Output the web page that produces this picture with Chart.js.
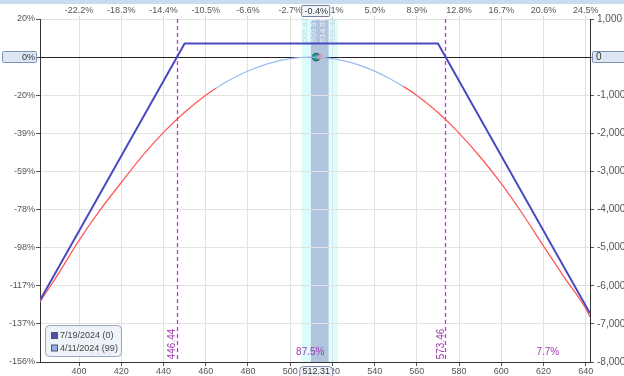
<!DOCTYPE html>
<html>
<head>
<meta charset="utf-8">
<script src="https://cdn.jsdelivr.net/npm/chart.js@4.4.1/dist/chart.umd.min.js"></script>
<style>
html,body{margin:0;padding:0;background:#fff;overflow:hidden}
</style>
</head>
<body>
<canvas id="c" width="624" height="376"></canvas>
<script>

/* data */
let expPrices = [381.5, 450, 570, 642];
let expPnl = [-6380, 355, 355, -6720];

let nowPrices = [381.5, 390, 400, 410, 420, 430, 440, 450, 460, 465, 470, 480, 490, 500, 506, 512.31,
   518, 525, 532, 540, 547, 553.7, 560, 570, 580, 590, 600, 610, 620, 630, 640, 642];
let nowPnl = [-6420, -5700, -4810, -4010, -3290, -2590, -1975, -1445, -1000, -810, -640, -365, -162, -42, -8, -2,
   -26, -90, -195, -368, -560, -775, -1005, -1455, -1995, -2620, -3320, -4110, -4960, -5790, -6596, -6820];
let nowBlueRange = [465, 553.7];

let xTicks = [400, 420, 440, 460, 480, 500, 520, 540, 560, 580, 600, 620, 640];
let topPctLabels = ["-22.2%", "-18.3%", "-14.4%", "-10.5%", "-6.6%", "-2.7%", "1%", "5.0%", "8.9%", "12.8%", "16.7%", "20.6%", "24.5%"];
let pnlTicks = [1000, 0, -1000, -2000, -3000, -4000, -5000, -6000, -7000, -8000];
let pctLabels = ["20%", "0%", "-20%", "-39%", "-59%", "-78%", "-98%", "-117%", "-137%", "-156%"];

let breakevens = [446.44, 573.46];
let probLabels = ["4.8%", "87.5%", "7.7%"];
let currentPrice = 512.31;
let currentPct = "-0.4%";
let bandOuter = [505.5, 522.6];
let bandInner = [509.8, 518.2];
let bandLabels = ["505.82", "509.97", "514.67", "522.42"];
let legendLabels = ["7/19/2024 (0)", "4/11/2024 (99)"];
let legendColors = ["#5050b0", "#8fb0e8"];

const FONT = "Liberation Sans, Arial, sans-serif";

function pts(xs, ys){
   return xs.map(function(x, i){ return {x:x, y:ys[i]}; });
}

function fmt(v){
   return v.toLocaleString("en-US");
}

function setTicks(values){
   return function(scale){
      scale.ticks = values.map(function(v){ return {value:v}; });
   };
}

let drawPlugin = {

   id:"optDraw",

   beforeDraw:function(chart){
      let c = chart.ctx, a = chart.chartArea, xs = chart.scales.x;
      c.save();
      c.fillStyle = "#ffffff";
      c.fillRect(0, 0, chart.width, chart.height);
      c.fillStyle = "#c8dbef";
      c.fillRect(0, 0, chart.width, 4);
      /* bands */
      c.fillStyle = "#dcfdfd";
      c.fillRect(xs.getPixelForValue(bandOuter[0]), a.top, xs.getPixelForValue(bandOuter[1]) - xs.getPixelForValue(bandOuter[0]), a.bottom - a.top);
      c.fillStyle = "#b0c4de";
      c.fillRect(xs.getPixelForValue(bandInner[0]), a.top, xs.getPixelForValue(bandInner[1]) - xs.getPixelForValue(bandInner[0]), a.bottom - a.top);
      c.restore();
   },

   beforeDatasetsDraw:function(chart){
      let c = chart.ctx, a = chart.chartArea, xs = chart.scales.x, ys = chart.scales.y;
      c.save();

      /* zero line */
      let y0 = Math.round(ys.getPixelForValue(0)) + 0.5;
      c.strokeStyle = "#222";
      c.lineWidth = 1;
      c.beginPath();
      c.moveTo(a.left, y0);
      c.lineTo(a.right, y0);
      c.stroke();

      /* band labels */
      c.font = "8px " + FONT;
      c.textAlign = "center";
      c.textBaseline = "middle";
      let bx = [bandOuter[0], bandInner[0], (bandInner[0] + bandInner[1]) / 2, bandOuter[1]];
      bandLabels.forEach(function(t, i){
         c.save();
         c.translate(xs.getPixelForValue(bx[i]) + (i === 0 ? 3 : (i === 3 ? -5 : 3)), 30);
         c.rotate(-Math.PI / 2);
         c.fillStyle = (i === 0 || i === 3) ? "#b9dbe6" : "rgba(255,255,255,0.75)";
         c.fillText(t, 0, 0);
         c.restore();
      });

      /* breakeven lines */
      c.strokeStyle = "#b444c4";
      c.lineWidth = 1.3;
      c.setLineDash([4, 3]);
      breakevens.forEach(function(b){
         let x = Math.round(xs.getPixelForValue(b)) + 0.5;
         c.beginPath();
         c.moveTo(x, a.top);
         c.lineTo(x, a.bottom);
         c.stroke();
      });
      c.setLineDash([]);

      c.fillStyle = "#a238b0";
      c.font = "10px " + FONT;
      breakevens.forEach(function(b){
         let x = xs.getPixelForValue(b);
         c.save();
         c.translate(x - 4.5, 344);
         c.rotate(-Math.PI / 2);
         c.textAlign = "center";
         c.textBaseline = "middle";
         c.fillText(b.toFixed(2), 0, 0);
         c.restore();
      });

      /* probability labels */
      c.textAlign = "center";
      c.textBaseline = "middle";
      let px = [410, 509.5, 622];
      probLabels.forEach(function(t, i){
         c.fillStyle = i === 0 ? "rgba(162,56,176,0.5)" : "#a238b0";
         c.fillText(t, xs.getPixelForValue(px[i]), 352);
      });

      c.restore();
   },

   afterDraw:function(chart){
      let c = chart.ctx, xs = chart.scales.x, ys = chart.scales.y;
      let y0 = ys.getPixelForValue(0);
      let cx = xs.getPixelForValue(currentPrice);
      c.save();

      function box(x, y, w, h, r, fill, stroke){
         c.beginPath();
         c.roundRect(x, y, w, h, r);
         c.fillStyle = fill;
         c.fill();
         c.strokeStyle = stroke;
         c.lineWidth = 1;
         c.stroke();
      }

      c.font = "9px " + FONT;
      c.textBaseline = "middle";

      /* left 0% box */
      box(2.5, Math.round(y0) - 5.5, 34, 11, 1, "#dde7f4", "#7d90b6");
      c.fillStyle = "#333";
      c.textAlign = "right";
      c.fillText(pctLabels[1], 35, y0);

      /* right 0 box */
      box(592.5, Math.round(y0) - 5.5, 34, 11, 1, "#dde7f4", "#7d90b6");
      c.fillStyle = "#333";
      c.textAlign = "left";
      c.font = "10px " + FONT;
      c.fillText(fmt(0), 596, y0);

      /* top pct box */
      c.font = "9px " + FONT;
      box(cx - 14.5, 5.5, 28, 11, 1, "#f2f5fa", "#6f7f9a");
      c.fillStyle = "#333";
      c.textAlign = "center";
      c.fillText(currentPct, cx, 11.5);

      /* bottom price box */
      box(cx - 16.5, 366.5, 33, 14, 4, "#eef2f8", "#7d8dab");
      c.fillStyle = "#333";
      c.fillText(currentPrice.toFixed(2), cx, 372);

      /* legend */
      box(45.5, 325.5, 76, 31, 4, "rgba(234,240,248,0.82)", "#9aa6bc");
      c.font = "9px " + FONT;
      c.textAlign = "left";
      legendLabels.forEach(function(t, i){
         let ly = 335.5 + i * 12.5;
         c.fillStyle = legendColors[i];
         c.fillRect(51.5, ly - 3, 6, 6);
         c.strokeStyle = "#556";
         c.strokeRect(51.5, ly - 3, 6, 6);
         c.fillStyle = "#444";
         c.fillText(t, 60, ly + 0.5);
      });

      c.restore();
   }

};

let ctx = document.getElementById("c").getContext("2d");

new Chart(ctx, {

   type:"line",

   data:{

      datasets:[

         {
            label:legendLabels[0],
            data:pts(expPrices, expPnl),
            borderColor:"#4a4ac0",
            borderWidth:2,
            pointRadius:0,
            tension:0,
            xAxisID:"x",
            yAxisID:"y"
         },

         {
            label:legendLabels[1],
            data:pts(nowPrices, nowPnl),
            borderColor:"#ff5a5a",
            borderWidth:1.3,
            pointRadius:0,
            cubicInterpolationMode:"monotone",
            segment:{
               borderColor:function(s){
                  return (s.p0.parsed.x >= nowBlueRange[0] && s.p1.parsed.x <= nowBlueRange[1]) ? "#9cbcee" : "#ff5a5a";
               }
            },
            xAxisID:"x",
            yAxisID:"y"
         },

         {
            type:"scatter",
            data:[{x:currentPrice + 1.6, y:0}],
            pointRadius:2.5,
            pointBackgroundColor:"#f08a80",
            pointBorderWidth:0,
            xAxisID:"x",
            yAxisID:"y"
         },

         {
            type:"scatter",
            data:[{x:currentPrice, y:0}],
            pointRadius:3.8,
            pointBackgroundColor:"#1fa5a0",
            pointBorderColor:"#1b4f5c",
            pointBorderWidth:1,
            xAxisID:"x",
            yAxisID:"y"
         }

      ]

   },

   options:{

      responsive:false,
      animation:false,
      layout:{padding:0},

      plugins:{
         legend:{display:false},
         tooltip:{enabled:false}
      },

      scales:{

         x:{
            type:"linear",
            position:"bottom",
            min:381.5,
            max:642,
            afterBuildTicks:setTicks(xTicks),
            afterFit:function(s){ s.height = 14; },
            grid:{color:"#e2e2e2", tickLength:4, tickColor:"#555"},
            border:{color:"#333"},
            ticks:{
               font:{size:9, family:FONT},
               color:"#555",
               padding:0,
               maxRotation:0,
               autoSkip:false
            }
         },

         x2:{
            type:"linear",
            position:"top",
            min:381.5,
            max:642,
            afterBuildTicks:setTicks(xTicks),
            afterFit:function(s){ s.height = 19; },
            grid:{drawOnChartArea:false, tickLength:3, color:"#d4d4d4"},
            border:{display:false},
            ticks:{
               font:{size:9, family:FONT},
               color:"#555",
               padding:0,
               maxRotation:0,
               autoSkip:false,
               callback:function(v){
                  let i = xTicks.indexOf(v);
                  if(i < 0) return "";
                  /* label next to the price box is pushed right */
                  return v === 520 ? "\u2002\u2002" + topPctLabels[i] : topPctLabels[i];
               }
            }
         },

         y:{
            type:"linear",
            position:"right",
            min:-8000,
            max:1000,
            afterBuildTicks:setTicks(pnlTicks),
            afterFit:function(s){ s.width = 34; },
            grid:{color:"#e2e2e2", tickLength:4, tickColor:"#555"},
            border:{color:"#333"},
            ticks:{
               font:{size:10, family:FONT},
               color:"#555",
               padding:3,
               callback:function(v){ return fmt(v); }
            }
         },

         y2:{
            type:"linear",
            position:"left",
            min:-8000,
            max:1000,
            afterBuildTicks:setTicks(pnlTicks),
            afterFit:function(s){ s.width = 40; },
            grid:{drawOnChartArea:false, tickLength:4, tickColor:"#555"},
            border:{color:"#333"},
            ticks:{
               font:{size:9, family:FONT},
               color:"#555",
               padding:1,
               callback:function(v){
                  let i = pnlTicks.indexOf(v);
                  return i >= 0 ? pctLabels[i] : "";
               }
            }
         }

      }

   },

   plugins:[drawPlugin]

});

</script>
</body>
</html>
